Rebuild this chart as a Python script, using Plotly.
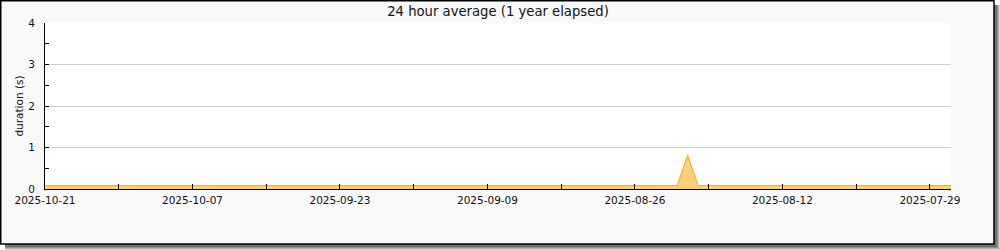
import pandas as pd
import plotly.graph_objects as go

# ---- data (daily 24h average duration, seconds) ----
dates = pd.date_range("2025-07-27", "2025-10-21", freq="D").strftime("%Y-%m-%d").tolist()
durations = [
    0.08, 0.08, 0.08, 0.08, 0.08,                                  # Jul 27-31
    0.08, 0.08, 0.08, 0.08, 0.08, 0.08, 0.08, 0.08, 0.08, 0.08,    # Aug 1-10
    0.08, 0.08, 0.08, 0.08, 0.08, 0.08, 0.08, 0.08, 0.08, 0.08,    # Aug 11-20
    0.81, 0.08, 0.08, 0.08, 0.08, 0.08, 0.08, 0.08, 0.08, 0.08,    # Aug 21-30
    0.08,                                                          # Aug 31
    0.08, 0.08, 0.08, 0.08, 0.08, 0.08, 0.08, 0.08, 0.08, 0.08,    # Sep 1-10
    0.08, 0.08, 0.08, 0.08, 0.08, 0.08, 0.08, 0.08, 0.08, 0.08,    # Sep 11-20
    0.08, 0.08, 0.08, 0.08, 0.08, 0.08, 0.08, 0.08, 0.08, 0.08,    # Sep 21-30
    0.08, 0.08, 0.08, 0.08, 0.08, 0.08, 0.08, 0.08, 0.08, 0.08,    # Oct 1-10
    0.08, 0.08, 0.08, 0.08, 0.08, 0.08, 0.08, 0.08, 0.08, 0.08,    # Oct 11-20
    0.08,                                                          # Oct 21
]
x_range = ["2025-10-21", "2025-07-27"]
y_ticks = [0, 1, 2, 3, 4]
title_text = "24 hour average (1 year elapsed)"
y_title = "duration (s)"

# ---- layout geometry ----
W, H = 1000, 250
ML, MR, MT, MB = 45, 49, 23, 61
PW, PH = W - ML - MR, H - MT - MB


def px(xp):
    return (xp - ML) / PW


def py(yp):
    return (H - MB - yp) / PH


FONT = "DejaVu Sans"
DAY = 86400000
TXT = "#111"

fig = go.Figure()
fig.add_trace(go.Scatter(
    x=dates, y=durations, mode="lines", fill="tozeroy",
    line=dict(color="#ffa500", width=1),
    fillcolor="#ffcf7a", hoverinfo="skip", showlegend=False,
))

shapes = []
# shadow
for off, col in [(6, "#d8d8d8"), (5, "#b0b0b0"), (4, "#909090"), (3, "#707070")]:
    shapes.append(dict(type="rect", xref="paper", yref="paper", layer="below",
                       x0=px(5), x1=px(994 + off), y0=py(5), y1=py(244 + off),
                       line=dict(width=0), fillcolor=col))
# frame
shapes.append(dict(type="rect", xref="paper", yref="paper", layer="below",
                   x0=px(0.75), x1=px(994), y0=py(0.75), y1=py(244),
                   line=dict(width=1.5, color="black"), fillcolor="#f9f9f9"))
# plot area
shapes.append(dict(type="rect", xref="paper", yref="paper", layer="below",
                   x0=0, x1=1, y0=0, y1=1, line=dict(width=0), fillcolor="white"))

fig.update_layout(
    width=W, height=H,
    margin=dict(l=ML, r=MR, t=MT, b=MB, pad=0),
    paper_bgcolor="white", plot_bgcolor="rgba(0,0,0,0)",
    font=dict(family=FONT, size=10.5, color=TXT),
    title=dict(text=title_text, x=px(498), xanchor="center", xref="paper",
               y=1 - 11 / H, yanchor="middle", font=dict(size=13.2, family=FONT, color=TXT)),
    shapes=shapes,
    showlegend=False,
    xaxis=dict(
        type="date", range=x_range, autorange=False,
        tick0="2025-10-21", dtick=14 * DAY, tickformat="%Y-%m-%d",
        ticks="inside", ticklen=5, tickcolor="black", tickwidth=1,
        minor=dict(tick0="2025-10-21", dtick=7 * DAY, ticks="inside", ticklen=5,
                   tickcolor="black", showgrid=False),
        showgrid=False, zeroline=False,
        showline=True, linecolor="black", linewidth=1,
        tickfont=dict(size=10.5, family=FONT, color=TXT),
        ticklabelstandoff=1,
        fixedrange=True,
    ),
    yaxis=dict(
        range=[0, 4], autorange=False,
        tickvals=y_ticks, ticktext=[str(v) for v in y_ticks],
        ticks="inside", ticklen=4, tickcolor="black", tickwidth=1,
        minor=dict(dtick=0.5, ticks="inside", ticklen=4, tickcolor="black", showgrid=False),
        showgrid=True, gridcolor="#cccccc", gridwidth=1, zeroline=False,
        showline=True, linecolor="black", linewidth=1,
        title=dict(text=y_title, font=dict(size=10.5, family=FONT, color=TXT), standoff=2),
        tickfont=dict(size=10.5, family=FONT, color=TXT),
        ticklabelstandoff=7,
        fixedrange=True,
    ),
)

fig.write_html("out.html", config={"displayModeBar": False})
